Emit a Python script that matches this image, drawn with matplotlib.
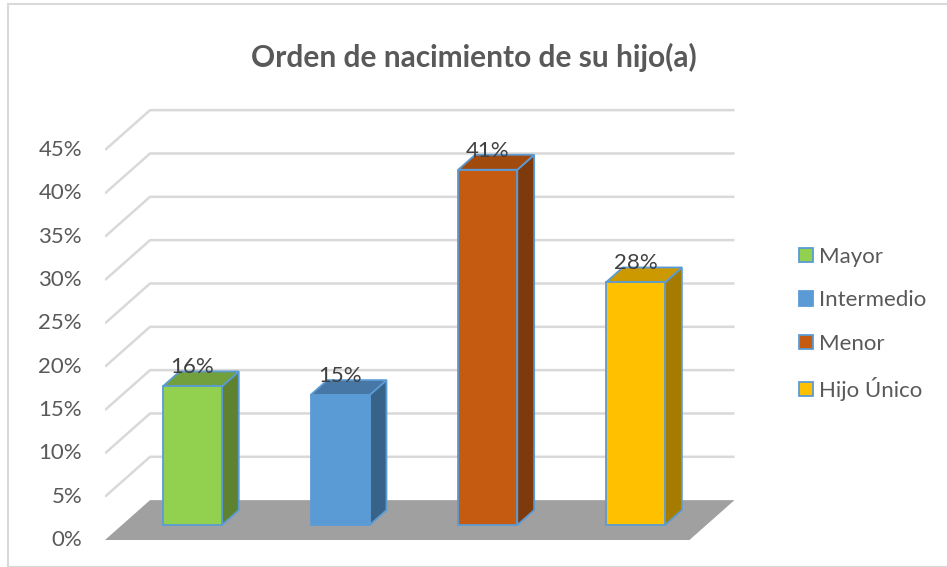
import matplotlib.pyplot as plt
from matplotlib.patches import Polygon, Patch, Rectangle

plt.rcParams['font.family'] = ['Lato', 'DejaVu Sans']

categories = ['Mayor', 'Intermedio', 'Menor', 'Hijo Único']
values = [16, 15, 41, 28]
labels = ['16%', '15%', '41%', '28%']
yticks = [0, 5, 10, 15, 20, 25, 30, 35, 40, 45]

front_colors = ['#92D050', '#5B9BD5', '#C55A11', '#FFC000']
side_colors = ['#5E8230', '#376389', '#7F3A0B', '#A67C00']
top_colors = ['#71A03C', '#4677A5', '#A04A0E', '#CC9A00']
edge = '#5B9BD5'
grid_c = '#D9D9D9'
text_c = '#595959'

# depth vector (category units, percent units) and bar depth fractions
DX, DY = 0.305, 4.6
f1, f2 = 0.375, 0.75
w = 0.40

fig = plt.figure(figsize=(9.47, 5.67), dpi=100)
fig.patches.append(Rectangle((8 / 947, 0), 2, (567 - 4) / 567, transform=fig.transFigure,
                             fill=False, edgecolor=grid_c, linewidth=1.5))

ax = fig.add_axes([105 / 947, 27 / 567, 645 / 947, 440 / 567])
ax.set_xlim(-0.477, 3.89)
ax.set_ylim(0, 50.77)
ax.axis('off')

x0, x1 = -0.477, 3.48

# floor
ax.add_patch(Polygon([(x0, 0), (x1, 0), (x1 + DX, DY), (x0 + DX, DY)],
                     closed=True, facecolor='#A0A0A0', edgecolor='none', zorder=1))

# walls grid + tick labels
for t in yticks:
    if t > 0:
        ax.plot([x0, x0 + DX, x1 + DX], [t, t + DY, t + DY], color=grid_c, lw=1.8,
                zorder=0, solid_capstyle='butt')
    ax.text(x0 - 0.155, t, f'{t}%', ha='right', va='center', fontsize=16, color=text_c)

# bars
for i, v in enumerate(values):
    xl = i - w / 2 + f1 * DX
    xr = i + w / 2 + f1 * DX
    yb = f1 * DY
    ddx, ddy = (f2 - f1) * DX, (f2 - f1) * DY
    ax.add_patch(Polygon([(xr, yb), (xr + ddx, yb + ddy), (xr + ddx, v + yb + ddy), (xr, v + yb)],
                         closed=True, facecolor=side_colors[i], edgecolor=edge, lw=1.3, zorder=3))
    ax.add_patch(Polygon([(xl, v + yb), (xr, v + yb), (xr + ddx, v + yb + ddy), (xl + ddx, v + yb + ddy)],
                         closed=True, facecolor=top_colors[i], edgecolor=edge, lw=1.3, zorder=3))
    ax.bar(i + f1 * DX, v, width=w, bottom=yb, color=front_colors[i], edgecolor=edge,
           linewidth=1.3, zorder=4)
    ax.text(i + f1 * DX, v + f2 * DY - 0.2, labels[i], ha='center', va='baseline',
            fontsize=16, color='#404040', zorder=5)

fig.text(0.5, 1 - 57 / 567, 'Orden de nacimiento de su hijo(a)', ha='center', va='center',
         fontsize=21.5, fontweight='bold', color=text_c)

handles = [Patch(facecolor=c, edgecolor=edge, linewidth=1.3) for c in front_colors]
leg = fig.legend(handles, categories, loc='upper left', bbox_to_anchor=(799 / 947, 1 - 247 / 567),
                 frameon=False, fontsize=16, handlelength=0.62, handleheight=0.62,
                 handletextpad=0.28, labelspacing=1.05, borderaxespad=0, borderpad=0)
for t in leg.get_texts():
    t.set_color(text_c)

fig.savefig('out.png', dpi=100)
